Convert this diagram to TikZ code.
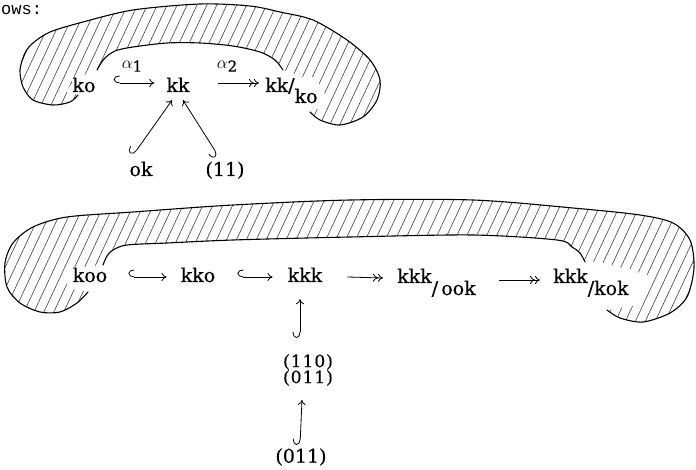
\documentclass[tikz,border=0pt]{standalone}
\usepackage{fontspec}
\setmainfont{DejaVu Serif}
\setmonofont{Liberation Mono}
\usetikzlibrary{arrows.meta,patterns.meta,calc}

\begin{document}
\begin{tikzpicture}[x=1pt,y=-1pt,
  lbl/.style={font=\fontsize{19}{22}\selectfont\addfontfeatures{FakeBold=0.4}, inner sep=1pt, fill=white},
  small/.style={font=\fontsize{17}{16}\selectfont\addfontfeatures{LetterSpace=6,FakeBold=0.4}, inner sep=1pt, fill=white, align=center},
  big/.style={font=\fontsize{19}{22}\selectfont\addfontfeatures{FakeBold=0.4}, inner sep=1pt, fill=white},
  alab/.style={font=\fontsize{19}{22}\selectfont\addfontfeatures{FakeBold=0.4}, inner sep=1pt},
  hatch/.style={pattern={Lines[angle=65,distance=9pt,line width=0.6pt]}, pattern color=black!75},
  rim/.style={line width=1.1pt, line cap=round},
  hookarr/.style={line width=0.8pt, {Hooks[right,length=6pt,width=15pt]}-{To[length=5pt,width=8pt]}},
  epiarr/.style={line width=0.8pt, -{To[length=5pt,width=8pt]To[length=5pt,width=8pt]}},
]
\useasboundingbox (0,0) rectangle (696,470);

% hatched bands
\fill[hatch] plot[smooth] coordinates {(78,95) (70,102) (53,105) (33,100) (23,87) (20,70) (25,53) (33,43) (50,32) (83,22) (133,10) (200,4) (250,6) (280,12) (313,20) (347,40) (370,60) (380,80) (377,100) (363,117) (340,125) (320,120) (310,112)}
  -- (328,105) -- (322,85) -- (290,72)
  -- plot[smooth] coordinates {(283,70) (275,60) (260,52) (233,46) (200,43) (167,43) (133,47) (115,51) (104,59) (97,70)}
  -- (75,78) -- (66,92) -- cycle;
\fill[hatch] plot[smooth] coordinates {(88,292) (77,303) (60,312) (40,312) (20,303) (7,287) (5,263) (13,243) (33,227) (67,217) (133,212) (233,205) (350,200) (473,200) (573,208) (640,215) (673,223) (690,240) (694,268) (687,297) (670,313) (643,322) (620,318) (607,310)}
  -- (640,305) -- (648,275) -- (600,262)
  -- plot[smooth] coordinates {(585,262) (580,253) (572,247) (557,240) (473,235) (350,237) (233,240) (167,243) (127,245) (113,250) (107,256) (103,265)}
  -- (70,268) -- (66,288) -- cycle;

% fragment of the running text
\node[font=\ttfamily\fontsize{17}{19}\selectfont, anchor=base west, inner sep=0] (ows) at (1,15) {ows:};

% upper diagram
\node[lbl, anchor=base] (ko) at (84,92) {ko};
\node[lbl, anchor=base] (kk) at (178,92) {kk};
\node[lbl, anchor=base west] (kkq) at (264,92) {kk/\raisebox{-11pt}{ko}};
\node[alab] (a1) at (132,66) {$\alpha$\raisebox{-3pt}{\fontsize{15}{15}\selectfont 1}};
\node[alab] (a2) at (227,66) {$\alpha$\raisebox{-3pt}{\fontsize{15}{15}\selectfont 2}};
\node[lbl, anchor=base] (ok) at (141,176) {ok};
\node[lbl, anchor=base] (p11) at (225,176) {(11)};

% lower diagram
\node[lbl, anchor=base] (koo) at (90,282) {koo};
\node[lbl, anchor=base] (kko) at (198,282) {kko};
\node[lbl, anchor=base] (kkk) at (305,282) {kkk};
\node[lbl, anchor=base west] (q1) at (396,283) {kkk\raisebox{-12pt}{/\,ook}};
\node[lbl, anchor=base west] (q2) at (552,283) {kkk\raisebox{-12pt}{/kok}};
\node[small] (pair) at (308,370) {(110)\\(011)};
\node[big] (b011) at (301,457) {(011)};

% outlines of the bands
\draw[rim] plot[smooth] coordinates {(78,95) (70,102) (53,105) (33,100) (23,87) (20,70) (25,53) (33,43) (50,32) (83,22) (133,10) (200,4) (250,6) (280,12) (313,20) (347,40) (370,60) (380,80) (377,100) (363,117) (340,125) (320,120) (310,112)};
\draw[rim] plot[smooth] coordinates {(97,70) (104,59) (115,51) (133,47) (167,43) (200,43) (233,46) (260,52) (275,60) (283,70)};
\draw[rim] plot[smooth] coordinates {(88,292) (77,303) (60,312) (40,312) (20,303) (7,287) (5,263) (13,243) (33,227) (67,217) (133,212) (233,205) (350,200) (473,200) (573,208) (640,215) (673,223) (690,240) (694,268) (687,297) (670,313) (643,322) (620,318) (607,310)};
\draw[rim] plot[smooth] coordinates {(103,265) (107,256) (113,250) (127,245) (167,243) (233,240) (350,237) (473,235) (557,240) (572,247) (580,253) (585,262)};

% upper arrows
\draw[hookarr] ($(ko.base east)+(17pt,9pt)$) -- ($(kk.base west)+(-11pt,9pt)$);
\draw[epiarr] ($(kk.base east)+(27pt,9pt)$) -- ($(kkq.base west)+(-5pt,9pt)$);
\draw[hookarr] ($(ok.north)+(-8pt,5pt)$) -- ($(kk.south)+(-6pt,-7pt)$);
\draw[hookarr] ($(p11.north)+(-7pt,5pt)$) -- ($(kk.south)+(5pt,-7pt)$);

% lower arrows
\draw[hookarr] ($(koo.base east)+(20pt,5pt)$) -- ($(kko.base west)+(-13pt,5pt)$);
\draw[hookarr] ($(kko.base east)+(21pt,5pt)$) -- ($(kkk.base west)+(-14pt,5pt)$);
\draw[epiarr] ($(kkk.base east)+(24pt,5pt)$) -- ($(q1.base west)+(-13pt,5pt)$);
\draw[epiarr] ($(q1.base east)+(22pt,3pt)$) -- ($(q2.base west)+(-12pt,3pt)$);
\draw[hookarr] ($(pair.north)+(-8pt,15pt)$) -- ($(kkk.south)+(-5pt,-16pt)$);
\draw[hookarr] ($(b011.north)+(-1pt,2pt)$) -- ($(pair.south)+(-6pt,-13pt)$);
\end{tikzpicture}
\end{document}
